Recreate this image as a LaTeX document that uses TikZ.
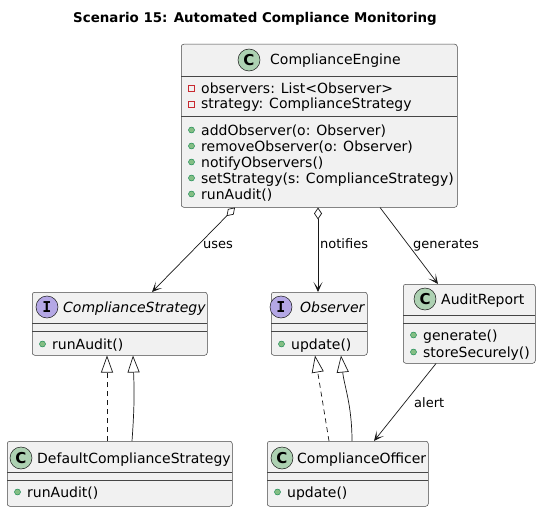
\documentclass[tikz,border=0pt]{standalone}
\usepackage{fontspec}
\setmainfont{DejaVu Sans}
\newfontfamily\monofam{DejaVu Sans Mono}
\usetikzlibrary{arrows.meta,calc}
\definecolor{boxfill}{HTML}{F1F1F1}
\definecolor{boxline}{HTML}{181818}
\definecolor{cfill}{HTML}{ADD1B2}
\definecolor{ifill}{HTML}{B4A7E5}
\definecolor{pubfill}{HTML}{84BE84}
\definecolor{publine}{HTML}{038048}
\definecolor{privline}{HTML}{C82930}
\tikzset{
  classbox/.style={draw=boxline!80,fill=boxfill,line width=0.5pt,rounded corners=2.5pt,anchor=north west,inner sep=0pt},
  sepline/.style={draw=boxline!80,line width=0.5pt},
  member/.style={anchor=base west,inner sep=0pt,font=\fontsize{14}{16}\selectfont},
  cname/.style={anchor=base west,inner sep=0pt,font=\fontsize{14}{16}\selectfont},
  iname/.style={anchor=base west,inner sep=0pt,font=\fontsize{14}{16}\selectfont\itshape},
  lbl/.style={anchor=base west,inner sep=0pt,font=\fontsize{13}{15}\selectfont},
  badge/.style={circle,draw=boxline,line width=0.5pt,minimum size=22pt,inner sep=0pt,font=\fontsize{15}{15}\selectfont\bfseries},
  pubdot/.style={fill=pubfill,draw=publine,line width=0.4pt},
  privsq/.style={draw=privline,line width=0.6pt},
  conn/.style={draw=boxline,line width=0.7pt},
  headarrow/.style={-{Stealth[length=10pt,width=9pt,inset=6pt]}},
  aggarrow/.style={{Diamond[open,length=12pt,width=8pt,fill=white]}-{Stealth[length=10pt,width=9pt,inset=6pt]}},
  inherit/.style={-{Triangle[open,length=17pt,width=12pt,fill=white]}},
}
\newcommand\pubmember[4]{%
  \filldraw[pubdot] (#2+10.5,#3) circle (3);
  \node[member] (#1) at (#2+20,#3+5) {#4};}
\newcommand\privmember[4]{%
  \draw[privsq] (#2+7.5,#3-3) rectangle ++(6,6);
  \node[member] (#1) at (#2+20,#3+5) {#4};}
\begin{document}
\begin{tikzpicture}[x=1pt,y=-1pt]
\useasboundingbox[fill=white] (0,0) rectangle (541,511);

\node[anchor=base,inner sep=0pt,font=\fontsize{13.4}{16}\selectfont\bfseries] (title) at (255,23) {Scenario 15: Automated Compliance Monitoring};

% ComplianceEngine
\node[classbox,minimum width=276pt,minimum height=163pt] (ce) at (181,44) {};
\draw[sepline] (181,76) -- (457,76);
\draw[sepline] (181,116) -- (457,116);
\node[badge,fill=cfill] (cebadge) at (249,60) {C};
\node[cname] (cename) at (270,65) {ComplianceEngine};
\privmember{ce1}{181}{88}{observers: List<Observer>}
\privmember{ce2}{181}{104}{strategy: ComplianceStrategy}
\pubmember{ce3}{181}{130}{addObserver(o: Observer)}
\pubmember{ce4}{181}{146}{removeObserver(o: Observer)}
\pubmember{ce5}{181}{162}{notifyObservers()}
\pubmember{ce6}{181}{178}{setStrategy(s: ComplianceStrategy)}
\pubmember{ce7}{181}{194}{runAudit()}

% ComplianceStrategy
\node[classbox,minimum width=175pt,minimum height=63pt] (cs) at (32,292) {};
\draw[sepline] (32,323) -- (207,323);
\draw[sepline] (32,331) -- (207,331);
\node[badge,fill=ifill,font=\fontsize{15}{15}\selectfont\bfseries\monofam] (csbadge) at (47,307) {I};
\node[iname] (csname) at (63,312) {ComplianceStrategy};
\pubmember{cs1}{32}{344}{runAudit()}

% Observer
\node[classbox,minimum width=96pt,minimum height=63pt] (ob) at (271,292) {};
\draw[sepline] (271,323) -- (367,323);
\draw[sepline] (271,331) -- (367,331);
\node[badge,fill=ifill,font=\fontsize{15}{15}\selectfont\bfseries\monofam] (obbadge) at (281,307) {I};
\node[iname] (obname) at (300,312) {Observer};
\pubmember{ob1}{271}{344}{update()}

% AuditReport
\node[classbox,minimum width=132pt,minimum height=79pt] (ar) at (403,284) {};
\draw[sepline] (403,315) -- (535,315);
\draw[sepline] (403,323) -- (535,323);
\node[badge,fill=cfill] (arbadge) at (425,299) {C};
\node[cname] (arname) at (441,304) {AuditReport};
\pubmember{ar1}{403}{335}{generate()}
\pubmember{ar2}{403}{352}{storeSecurely()}

% DefaultComplianceStrategy
\node[classbox,minimum width=225pt,minimum height=65pt] (dcs) at (7,441) {};
\draw[sepline] (7,472) -- (232,472);
\draw[sepline] (7,480) -- (232,480);
\node[badge,fill=cfill] (dcsbadge) at (21,458) {C};
\node[cname] (dcsname) at (37,463) {DefaultComplianceStrategy};
\pubmember{dcs1}{7}{492}{runAudit()}

% ComplianceOfficer
\node[classbox,minimum width=161pt,minimum height=65pt] (co) at (267,441) {};
\draw[sepline] (267,472) -- (428,472);
\draw[sepline] (267,480) -- (428,480);
\node[badge,fill=cfill] (cobadge) at (282,458) {C};
\node[cname] (coname) at (297,463) {ComplianceOfficer};
\pubmember{co1}{267}{492}{update()}

% connectors
\draw[conn,aggarrow] ($(ce.south west)+(54,0)$) -- ($(cs.north west)+(120,0)$);
\node[lbl] (luses) at (203,248) {uses};
\draw[conn,aggarrow] ($(ce.south west)+(137,0)$) -- ($(ob.north west)+(47,0)$);
\node[lbl] (lnotifies) at (320,248) {notifies};
\draw[conn,headarrow] ($(ce.south west)+(199,0)$) -- ($(ar.north west)+(35,0)$);
\node[lbl] (lgenerates) at (413,248) {generates};
\draw[conn,headarrow] ($(ar.south west)+(33,0)$) -- ($(co.north west)+(107,0)$);
\node[lbl] (lalert) at (414,407) {alert};

\draw[conn,inherit,dashed,dash pattern=on 5pt off 4pt] ($(dcs.north west)+(100,0)$) -- ($(cs.south west)+(75,0)$);
\draw[conn,inherit] ($(dcs.north west)+(125,0)$) .. controls (135,400) and (134,385) .. ($(cs.south west)+(101,0)$);
\draw[conn,inherit,dashed,dash pattern=on 5pt off 4pt] ($(co.north west)+(62,0)$) -- ($(ob.south west)+(44,0)$);
\draw[conn,inherit] ($(co.north west)+(85,0)$) .. controls (352,405) and (344,385) .. ($(ob.south west)+(70,0)$);
\end{tikzpicture}
\end{document}
